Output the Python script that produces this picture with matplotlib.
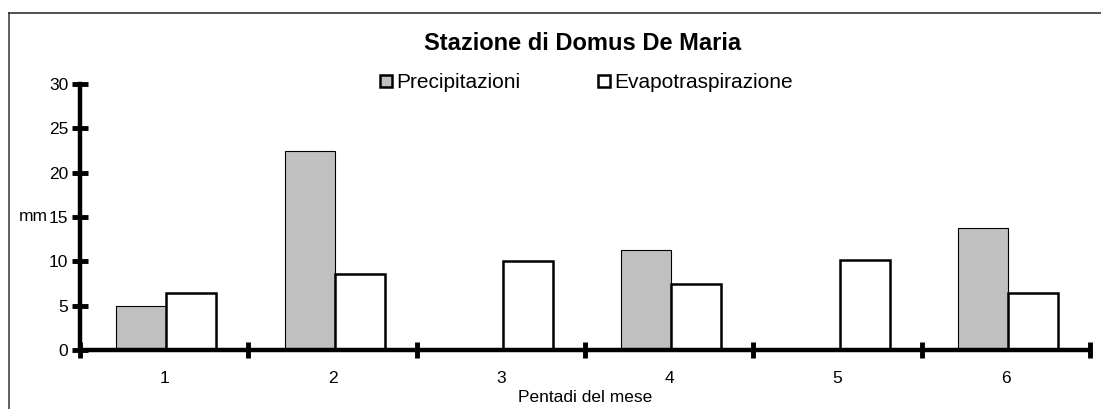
import matplotlib
matplotlib.use("Agg")
import matplotlib.pyplot as plt
import numpy as np
from matplotlib.lines import Line2D

plt.rcParams['font.family'] = ['Liberation Sans', 'DejaVu Sans']

categories = ['1', '2', '3', '4', '5', '6']
precipitazioni = [5.0, 22.4, 0.0, 11.3, 0.0, 13.8]
evapotraspirazione = [6.4, 8.6, 10.0, 7.4, 10.2, 6.4]
yticks = [0, 5, 10, 15, 20, 25, 30]

W, H = 1101, 409
fig = plt.figure(figsize=(W / 100, H / 100), dpi=100)
ax = fig.add_axes([80 / W, 1 - 350 / H, (1090 - 80) / W, (350 - 84) / H])

x = np.arange(1, len(categories) + 1)
w = 0.297
ax.bar(x - w / 2 + 0.012, precipitazioni, width=w, color='#c0c0c0', edgecolor='black', linewidth=0.8)
ax.bar(x + w / 2 + 0.012, evapotraspirazione, width=w, color='white', edgecolor='black', linewidth=1.8)

ax.set_xlim(0.5, len(categories) + 0.5)
ax.set_ylim(0, 30)
ax.set_yticks(yticks)
ax.set_yticklabels([str(v) for v in yticks], fontsize=12.5)
ax.set_xticks(np.arange(0.5, len(categories) + 1, 1.0))
ax.set_xticklabels([])
ax.set_xticks(x, minor=True)
ax.set_xticklabels(categories, minor=True, fontsize=12.5)
ax.tick_params(axis='x', which='minor', length=0, pad=15)
ax.tick_params(axis='both', which='major', direction='inout', length=11, width=3.5, pad=3)

for s in ['top', 'right']:
    ax.spines[s].set_visible(False)
for s in ['left', 'bottom']:
    ax.spines[s].set_linewidth(3.2)
ax.spines['left'].set_bounds(0, 30)

ax.set_ylabel('mm', rotation=0, fontsize=12.5, ha='right', va='center')
ax.yaxis.set_label_coords(-0.0317, 0.5)
ax.set_xlabel('Pentadi del mese', fontsize=12.5, labelpad=3)

fig.text(583 / W, 1 - 44 / H, 'Stazione di Domus De Maria', fontsize=17, fontweight='bold',
         ha='center', va='center')

handles = [
    Line2D([], [], marker='s', linestyle='none', markersize=8, markerfacecolor='#c0c0c0',
           markeredgecolor='black', markeredgewidth=1.8),
    Line2D([], [], marker='s', linestyle='none', markersize=8, markerfacecolor='white',
           markeredgecolor='black', markeredgewidth=1.8),
]
fig.legend(handles, ['Precipitazioni', 'Evapotraspirazione'], loc='center',
           bbox_to_anchor=(586 / W, 1 - 83 / H), ncol=2, frameon=False, fontsize=15,
           handlelength=0.6, handletextpad=0.2, columnspacing=3.7, borderpad=0)

# partial figure frame (top and left)
fig.add_artist(Line2D([8.5 / W, 8.5 / W], [0, 1 - 13 / H], transform=fig.transFigure,
                      color='#444444', linewidth=1.2))
fig.add_artist(Line2D([8.5 / W, 1], [1 - 13 / H, 1 - 13 / H], transform=fig.transFigure,
                      color='#333333', linewidth=1.2))

fig.savefig('out.png', dpi=100)
